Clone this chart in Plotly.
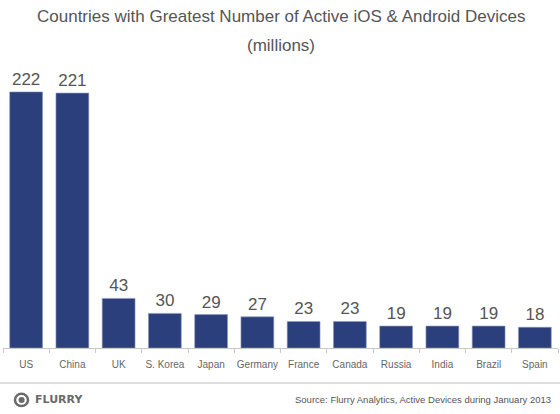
import plotly.graph_objects as go

countries = ["US", "China", "UK", "S. Korea", "Japan", "Germany",
             "France", "Canada", "Russia", "India", "Brazil", "Spain"]
devices_millions = [222, 221, 43, 30, 29, 27, 23, 23, 19, 19, 19, 18]

title_lines = ["Countries with Greatest Number of Active iOS & Android Devices",
               "(millions)"]
source_note = "Source: Flurry Analytics, Active Devices during January 2013"

sans = "Liberation Sans, Arial, sans-serif"

fig = go.Figure()
fig.add_trace(
    go.Bar(
        x=countries,
        y=devices_millions,
        text=devices_millions,
        textposition="outside",
        cliponaxis=False,
        textfont=dict(family=sans, size=17, color="#555555"),
        marker=dict(color="#2A3F7B", line=dict(color="#8E9BC0", width=0.6)),
        width=0.71,
    )
)

fig.update_layout(
    width=560,
    height=414,
    margin=dict(l=3, r=2, t=70, b=66, autoexpand=False),
    paper_bgcolor="white",
    plot_bgcolor="white",
    showlegend=False,
    xaxis=dict(
        showline=True,
        linecolor="#C8C8C8",
        linewidth=1,
        ticks="outside",
        tickson="boundaries",
        ticklen=4,
        tickcolor="#C8C8C8",
        tickangle=0,
        ticklabelstandoff=7,
        automargin=False,
        tickfont=dict(family=sans, size=10, color="#666666"),
        showgrid=False,
    ),
    yaxis=dict(
        range=[0, 241],
        visible=False,
        showgrid=False,
        automargin=False,
    ),
)

# two-line title
for txt, ypos in zip(title_lines, [1.194, 1.088]):
    fig.add_annotation(text=txt, xref="paper", yref="paper", x=0.5, y=ypos,
                       xanchor="center", yanchor="middle", showarrow=False,
                       font=dict(family=sans, size=17, color="#555555"))

# footer separator
fig.add_shape(type="line", xref="paper", yref="paper",
              x0=-0.006, x1=1.005, y0=-0.126, y1=-0.126,
              line=dict(color="#D5D5D5", width=1.5))

# Flurry logo
fig.add_shape(type="circle", xref="paper", yref="paper",
              x0=0.0216, x1=0.045, y0=-0.209, y1=-0.165,
              line=dict(color="#6A6A6A", width=2.5), fillcolor="white")
fig.add_shape(type="circle", xref="paper", yref="paper",
              x0=0.028, x1=0.039, y0=-0.198, y1=-0.176,
              line=dict(width=0), fillcolor="#6A6A6A")
fig.add_annotation(text="<b>FLURRY</b>", xref="paper", yref="paper",
                   x=0.054, y=-0.187, xanchor="left", yanchor="middle",
                   showarrow=False,
                   font=dict(family="DejaVu Sans", size=11, color="#6A6A6A"))

fig.add_annotation(text=source_note, xref="paper", yref="paper",
                   x=0.991, y=-0.187, xanchor="right", yanchor="middle",
                   showarrow=False,
                   font=dict(family=sans, size=9.5, color="#555555"))

fig.write_html("out.html", config={"displayModeBar": False},
               post_script="document.body.style.margin='0';")
